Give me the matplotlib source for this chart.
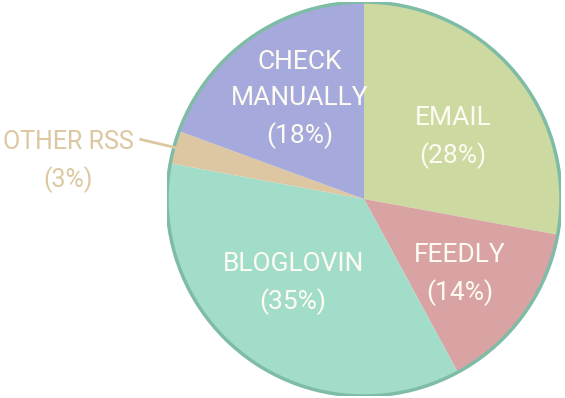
import matplotlib.pyplot as plt
import numpy as np

# wedge shares (clockwise from 12 o'clock)
names = ["EMAIL", "FEEDLY", "BLOGLOVIN", "OTHER RSS", "CHECK\nMANUALLY"]
shares = [27.9, 14.2, 35.8, 2.7, 19.4]
pct_labels = ["28%", "14%", "35%", "3%", "18%"]
colors = ["#ccd9a1", "#d9a3a3", "#a2ddca", "#dcc7a2", "#a6a9db"]

# where each inside label sits: radius and angle nudge from the wedge middle
label_r = [0.55, 0.62, 0.56, 0, 0.60]
label_nudge = [-5, -2, -4, 0, -2]

font = ["Roboto", "DejaVu Sans"]

fig = plt.figure(figsize=(5.65, 3.98), dpi=100)
ax = fig.add_axes([167 / 565, 2 / 398, 394 / 565, 394 / 398])

wedges, _ = ax.pie(shares, colors=colors, startangle=90, counterclock=False,
                   radius=1, wedgeprops=dict(linewidth=0))
# outer rim
rim = plt.Circle((0, 0), 1, fill=False, edgecolor="#7fbca6", linewidth=2.5)
ax.add_patch(rim)
ax.set_xlim(-1, 1)
ax.set_ylim(-1, 1)
ax.set_aspect("equal")
ax.axis("off")

for w, name, pct, r, nudge in zip(wedges, names, pct_labels, label_r, label_nudge):
    mid = np.deg2rad((w.theta1 + w.theta2) / 2)
    if name == "OTHER RSS":
        x0, y0 = np.cos(mid), np.sin(mid)
        ax.plot([x0 * 0.97, -1.14], [y0 * 0.97, y0 + 0.04], color="#dcc7a2",
                linewidth=2, clip_on=False, solid_capstyle="butt")
        ax.text(-1.5, 0.19, name + "\n(" + pct + ")", ha="center", va="center",
                color="#dcc7a2", fontsize=18, family=font, linespacing=1.6)
        continue
    a = mid + np.deg2rad(nudge)
    ax.text(r * np.cos(a), r * np.sin(a), name + "\n(" + pct + ")",
            ha="center", va="center", color="#fdfbf2", fontsize=19,
            family=font, linespacing=1.6)

fig.savefig("out.png", dpi=100)
